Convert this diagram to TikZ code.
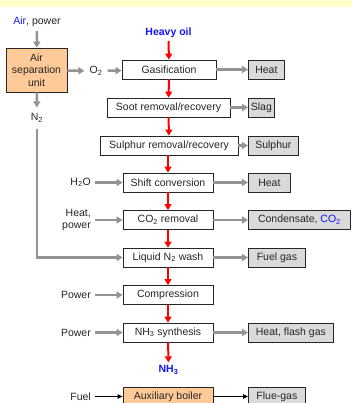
\documentclass[tikz,border=0pt]{standalone}
\usepackage{fontspec}
\setmainfont{Liberation Sans}
\usetikzlibrary{shapes,arrows.meta,positioning,calc}
\usepackage{xcolor}
\definecolor{peach}{HTML}{FDCA98}
\definecolor{outgray}{HTML}{DADADA}
\definecolor{sidegray}{HTML}{939393}
\definecolor{flowred}{HTML}{FF0000}
\definecolor{feedblue}{HTML}{1414FF}
\definecolor{band}{HTML}{FFFFCC}

\begin{document}
\begin{tikzpicture}[x=1pt, y=-1pt,
  every node/.style={font=\fontsize{10.5}{12.5}\selectfont, text=black!85},
  procbox/.style={draw=black!85, line width=0.8pt, fill=white, minimum height=19pt, inner sep=0pt},
  outbox/.style={procbox, fill=outgray},
  feedbox/.style={procbox, fill=peach},
  flow/.style={flowred, line width=2pt, -{Triangle[length=6pt, width=7pt]}},
  side/.style={sidegray, line width=2.5pt, -{Triangle[length=6pt, width=7pt]}},
  thin/.style={black, line width=1pt, -{Triangle[length=5pt, width=4.5pt]}},
  lbl/.style={anchor=east, align=right, inner xsep=4pt}
]
  \clip (0,0) rectangle (352,403);
  \useasboundingbox (0,0) rectangle (352,403);
  \fill[white] (0,0) rectangle (352,403);
  \fill[band] (0,0) rectangle (352,7);

  % Air separation
  \node[inner ysep=4pt] (air) at (37,22) {\textcolor{feedblue}{Air}, power};
  \node[feedbox, minimum width=61pt, minimum height=44pt, align=center] (asu) at (36.5,70) {Air\\separation\\unit};
  \node[inner xsep=5pt] (o2) at (96,71) {O\textsubscript{2}};
  \node[inner ysep=6pt] (n2) at (37,118) {N\textsubscript{2}};

  % Main line
  \node[font=\fontsize{10.5}{12.5}\selectfont\bfseries, text=feedblue, inner ysep=3pt] (oil) at (168.5,33) {Heavy oil};
  \node[procbox, minimum width=94pt] (gas) at (169,69.5) {Gasification};
  \node[procbox, minimum width=123pt] (soot) at (168.5,107.5) {Soot removal/recovery};
  \node[procbox, minimum width=138pt] (sulph) at (169,145.5) {Sulphur removal/recovery};
  \node[procbox, minimum width=90pt] (shift) at (168,182.5) {Shift conversion};
  \node[procbox, minimum width=90pt] (co2) at (168,220) {CO\textsubscript{2} removal};
  \node[procbox, minimum width=90pt] (liq) at (168,257.5) {Liquid N\textsubscript{2} wash};
  \node[procbox, minimum width=90pt] (comp) at (168,295) {Compression};
  \node[procbox, minimum width=90pt] (syn) at (168,332.5) {NH\textsubscript{3} synthesis};
  \node[font=\fontsize{10.5}{12.5}\selectfont\bfseries, text=feedblue, inner ysep=3pt] (nh3) at (168.5,370) {NH\textsubscript{3}};
  \node[feedbox, minimum width=90pt] (aux) at (168,396.5) {Auxiliary boiler};

  % Outputs
  \node[outbox, minimum width=36pt, anchor=west] (heat1) at (248,69.5) {Heat};
  \node[outbox, minimum width=26pt, anchor=west] (slag) at (248,107.5) {Slag};
  \node[outbox, minimum width=50pt, anchor=west] (sulphur) at (248,145.5) {Sulphur};
  \node[outbox, minimum width=42pt, anchor=west] (heat2) at (248,182.5) {Heat};
  \node[outbox, minimum width=102pt, anchor=west] (cond) at (248,220) {Condensate, \textcolor{feedblue}{CO\textsubscript{2}}};
  \node[outbox, minimum width=57pt, anchor=west] (fuelgas) at (248,257.5) {Fuel gas};
  \node[outbox, minimum width=85pt, anchor=west] (flash) at (248,332.5) {Heat, flash gas};
  \node[outbox, minimum width=57pt, anchor=west] (flue) at (248,396.5) {Flue-gas};

  % Inputs
  \node[lbl] (h2o) at (95,182.5) {H\textsubscript{2}O};
  \node[lbl] (heatpow) at (95,220) {Heat,\\power};
  \node[lbl] (pow1) at (95,295) {Power};
  \node[lbl] (pow2) at (95,332.5) {Power};
  \node[lbl] (fuel) at (95,396.5) {Fuel};

  % Red flow
  \draw[flow] (oil) -- (gas);
  \draw[flow] (gas) -- (soot);
  \draw[flow] (soot) -- (sulph);
  \draw[flow] (sulph.south -| shift.north) -- (shift);
  \draw[flow] (shift) -- (co2);
  \draw[flow] (co2) -- (liq);
  \draw[flow] (liq) -- (comp);
  \draw[flow] (comp) -- (syn);
  \draw[flow] (syn) -- (nh3);

  % Side streams
  \draw[side] (air) -- (asu);
  \draw[side] (asu) -- (o2);
  \draw[side] (o2) -- (gas);
  \draw[side] (asu) -- (n2);
  \draw[side] (n2.south) |- (liq.west);
  \draw[side] (gas) -- (heat1);
  \draw[side] (soot) -- (slag);
  \draw[side] (sulph) -- (sulphur);
  \draw[side] (shift) -- (heat2);
  \draw[side] (co2) -- (cond);
  \draw[side] (liq) -- (fuelgas);
  \draw[side] (syn) -- (flash);
  \draw[side] (h2o) -- (shift);
  \draw[side] (heatpow) -- (co2);
  \draw[side] (pow1) -- (comp);
  \draw[side] (pow2) -- (syn);
  \draw[thin] (fuel) -- (aux);
  \draw[thin] (aux) -- (flue);
\end{tikzpicture}
\end{document}
